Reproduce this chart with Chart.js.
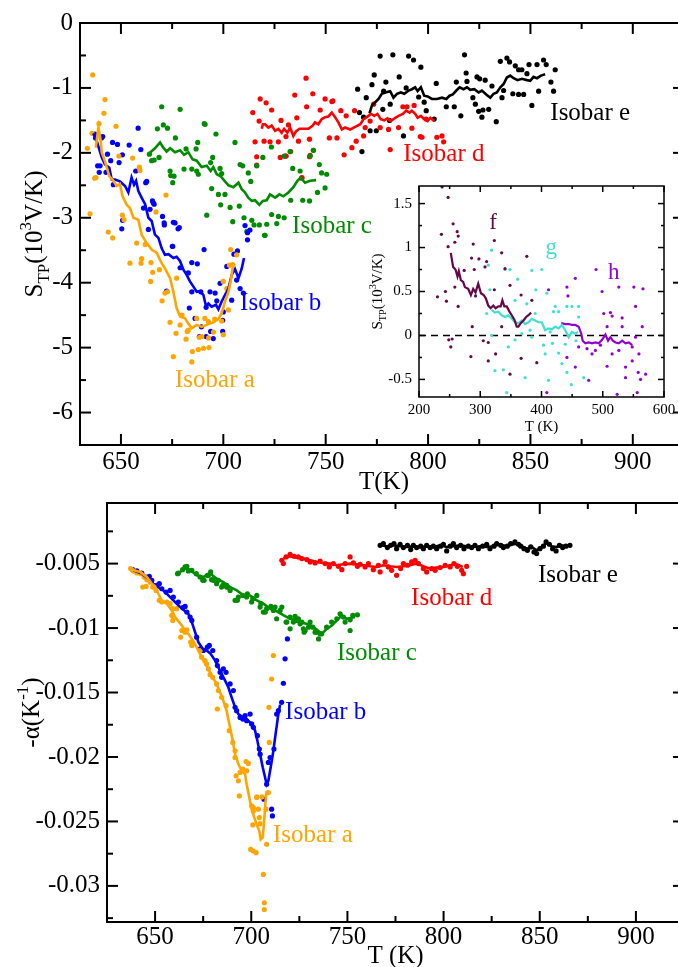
<!DOCTYPE html>
<html>
<head>
<meta charset="utf-8">
<script src="https://cdn.jsdelivr.net/npm/chart.js@4.4.1/dist/chart.umd.min.js"></script>
<style>
  html, body { margin: 0; padding: 0; background: #fff; overflow: hidden; width: 678px; height: 967px; }
  #wrap { position: relative; width: 678px; height: 967px; overflow: hidden; background: #fff; }
  canvas { position: absolute; left: 0; top: 0; }
</style>
</head>
<body>
<div id="wrap">
  <canvas id="topChart" width="690" height="967"></canvas>
  <canvas id="bottomChart" width="690" height="967"></canvas>
  <canvas id="insetChart" width="690" height="967"></canvas>
</div>
<script>
// ---------- Upper panel: thermopower S_TP (10^3 V/K) against T (K) ----------
const topXTicks = [650, 700, 750, 800, 850, 900];
const topXTickLabels = ['650', '700', '750', '800', '850', '900'];
const topXMinor = [675, 725, 775, 825, 875];
const topYTicks = [0, -1, -2, -3, -4, -5, -6];
const topYTickLabels = ['0', '-1', '-2', '-3', '-4', '-5', '-6'];
const topYMinor = [-0.5, -1.5, -2.5, -3.5, -4.5, -5.5];

const topA_dots = [[636.2,-0.80],[642.2,-1.18],[641.7,-1.39],[647.6,-1.59],[639.3,-1.55],[635.9,-1.70],[633.6,-1.93],[637.2,-2.39],[637.8,-2.38],[649.0,-2.05],[655.7,-2.08],[659.0,-2.22],[634.9,-2.94],[643.8,-3.22],[646.0,-3.31],[650.7,-2.96],[651.5,-3.03],[654.4,-3.70],[660.1,-3.63],[659.8,-3.70],[657.7,-3.39],[661.9,-3.41],[664.7,-3.69],[672.0,-2.65],[667.1,-2.91],[664.5,-3.98],[670.1,-4.28],[672.7,-4.14],[665.5,-3.84],[668.8,-3.80],[677.2,-3.93],[674.0,-4.61],[676.9,-4.78],[681.8,-4.87],[682.4,-4.75],[688.3,-4.84],[675.6,-5.14],[684.9,-5.06],[687.8,-5.03],[690.3,-5.01],[693.0,-5.00],[684.6,-5.22],[687.0,-4.55],[691.0,-4.55],[692.7,-4.60],[695.8,-4.56],[700.0,-4.80],[699.2,-4.59],[701.7,-4.09],[703.6,-3.49],[706.5,-3.57],[704.6,-3.72],[703.0,-3.73],[700.0,-3.98],[679.8,-4.50],[678.9,-4.65],[659.3,-2.27],[671.5,-4.16],[682.9,-4.73],[689.5,-4.83],[692.8,-4.85],[695.2,-4.76],[702.5,-4.42]];
const topA_line = [[637.7,-1.92],[639.0,-1.61],[640.1,-1.81],[640.6,-1.99],[642.2,-2.13],[644.3,-2.36],[646.3,-2.43],[647.9,-2.51],[649.5,-2.48],[650.8,-2.67],[652.8,-2.80],[654.4,-2.85],[656.1,-3.00],[658.5,-3.03],[660.1,-3.26],[662.6,-3.39],[665.0,-3.49],[667.5,-3.54],[669.9,-3.70],[671.5,-3.78],[674.0,-3.93],[675.6,-4.14],[677.2,-4.39],[678.9,-4.52],[681.3,-4.55],[682.9,-4.63],[684.6,-4.70],[687.0,-4.65],[689.4,-4.68],[691.9,-4.65],[695.1,-4.61],[697.6,-4.56],[699.2,-4.47],[700.8,-4.29],[702.5,-4.14],[703.6,-3.98],[704.9,-3.70]];

const topB_dots = [[637.3,-1.71],[637.6,-1.77],[640.5,-1.77],[638.6,-2.20],[639.4,-2.30],[643.4,-2.02],[645.0,-2.12],[645.9,-1.84],[648.3,-1.87],[649.1,-2.15],[650.7,-2.03],[654.0,-1.88],[658.4,-1.62],[659.7,-1.95],[657.2,-2.28],[662.1,-2.46],[665.4,-2.74],[666.2,-2.79],[670.3,-2.98],[671.1,-3.08],[675.6,-3.07],[677.9,-3.17],[675.1,-3.44],[641.1,-1.75],[639.8,-2.20],[642.7,-2.30],[646.3,-2.49],[662.6,-2.44],[665.8,-2.77],[664.2,-2.87],[650.8,-3.04],[650.4,-3.17],[661.0,-2.85],[663.4,-3.18],[671.2,-3.11],[676.4,-3.08],[678.5,-3.15],[675.3,-3.44],[690.6,-3.49],[684.6,-3.69],[687.3,-3.71],[682.9,-3.85],[672.3,-4.13],[678.9,-3.77],[684.6,-4.14],[689.0,-4.14],[693.5,-4.14],[696.0,-4.16],[698.4,-4.01],[696.8,-4.28],[691.6,-4.38],[686.2,-4.55],[683.4,-4.39],[688.3,-4.83],[691.6,-4.83],[695.1,-4.86],[693.8,-4.75],[700.0,-4.45],[704.1,-4.27],[706.9,-3.51],[705.2,-3.56],[706.5,-3.96],[708.2,-4.09],[709.8,-4.16],[710.6,-3.12],[711.8,-3.23],[711.8,-3.34],[713.0,-3.19],[701.7,-3.75],[699.7,-4.58],[699.7,-4.75],[689.3,-4.68]];
const topB_line = [[636.5,-1.70],[638.1,-1.81],[640.6,-2.07],[642.2,-2.18],[644.3,-2.23],[645.5,-2.41],[647.1,-2.41],[649.5,-2.44],[652.0,-2.51],[653.6,-2.61],[655.2,-2.38],[656.4,-2.49],[657.4,-2.43],[658.5,-2.59],[660.1,-2.69],[661.8,-2.79],[663.4,-3.00],[665.0,-3.05],[666.6,-3.26],[668.3,-3.31],[669.9,-3.47],[671.5,-3.57],[673.2,-3.56],[675.6,-3.62],[677.2,-3.60],[678.9,-3.67],[680.5,-3.80],[682.1,-3.88],[683.7,-3.98],[685.4,-4.06],[687.0,-4.14],[688.6,-4.13],[690.3,-4.19],[691.6,-4.37],[692.7,-4.32],[694.3,-4.37],[696.4,-4.34],[697.6,-4.41],[699.2,-4.29],[700.8,-4.19],[702.5,-4.09],[704.1,-3.88],[705.7,-3.79],[707.4,-3.93],[709.0,-3.78],[710.1,-3.62]];

const topC_dots = [[669.9,-1.29],[678.9,-1.33],[670.7,-1.57],[672.7,-1.62],[667.8,-1.63],[663.9,-2.02],[665.0,-2.12],[666.2,-2.11],[668.6,-2.07],[676.6,-1.77],[681.8,-1.94],[686.7,-1.94],[687.5,-1.84],[690.7,-1.55],[694.8,-2.07],[696.4,-1.71],[674.0,-2.28],[675.9,-2.36],[680.8,-2.25],[684.6,-2.25],[687.8,-2.33],[693.8,-2.15],[694.3,-2.55],[699.2,-2.32],[700.8,-2.64],[698.7,-2.80],[703.3,-2.84],[707.8,-2.82],[705.7,-1.84],[709.5,-2.20],[712.2,-2.31],[713.4,-2.44],[716.3,-2.20],[719.3,-2.07],[691.9,-2.96],[704.6,-3.06],[710.1,-3.00],[713.9,-3.04],[715.0,-3.11],[717.6,-3.11],[720.4,-3.27],[721.2,-3.10],[723.6,-2.95],[726.1,-3.09],[726.9,-2.98],[729.7,-3.00],[723.5,-1.91],[729.7,-2.05],[732.6,-1.98],[733.9,-2.24],[732.9,-2.73],[738.8,-2.73],[742.1,-2.74],[744.0,-1.96],[742.4,-2.05],[746.9,-2.18],[748.0,-2.31],[750.5,-2.33],[746.0,-2.61],[749.7,-2.54],[737.5,-2.28],[691.1,-1.56],[698.4,-2.24],[697.6,-2.64],[687.0,-2.28],[675.3,-2.46],[674.3,-2.35],[708.2,-2.18],[711.5,-3.21],[720.1,-3.27]];
const topC_line = [[663.4,-2.02],[666.6,-1.93],[669.1,-1.84],[670.7,-1.92],[672.3,-1.98],[674.0,-1.93],[676.4,-1.99],[678.9,-1.96],[680.8,-2.03],[682.9,-1.99],[685.0,-2.10],[687.0,-2.12],[689.4,-2.22],[691.9,-2.20],[693.8,-2.28],[695.1,-2.22],[696.8,-2.33],[698.7,-2.36],[700.8,-2.44],[702.5,-2.50],[704.9,-2.53],[707.4,-2.46],[709.0,-2.56],[710.6,-2.61],[712.2,-2.69],[713.9,-2.74],[715.5,-2.73],[717.6,-2.80],[719.3,-2.74],[721.2,-2.73],[722.8,-2.64],[725.3,-2.69],[727.4,-2.64],[729.3,-2.67],[731.8,-2.61],[734.2,-2.53],[736.2,-2.43],[737.8,-2.38],[739.9,-2.46],[742.4,-2.43],[745.3,-2.42]];

const topD_dots = [[740.4,-0.85],[718.0,-1.17],[720.9,-1.23],[714.4,-1.38],[717.5,-1.51],[723.6,-1.34],[728.2,-1.50],[731.8,-1.57],[735.9,-1.46],[734.9,-1.11],[740.7,-1.29],[743.7,-1.09],[747.3,-1.34],[749.7,-1.17],[753.0,-1.21],[715.5,-1.83],[719.9,-1.82],[722.8,-1.83],[726.9,-1.83],[730.6,-1.75],[736.7,-1.82],[742.1,-1.79],[751.8,-1.77],[716.3,-2.06],[730.2,-2.05],[732.9,-1.98],[744.0,-1.96],[742.1,-2.06],[738.3,-2.39],[753.5,-1.20],[757.4,-1.35],[760.0,-1.43],[764.1,-1.35],[771.7,-1.51],[773.4,-1.25],[776.6,-1.61],[780.7,-1.64],[785.6,-1.61],[787.7,-1.29],[789.7,-1.29],[793.2,-1.27],[792.1,-1.62],[796.2,-1.75],[797.0,-1.76],[799.1,-1.48],[804.3,-1.76],[807.6,-1.83],[781.5,-1.95],[764.9,-1.82],[762.8,-1.92],[759.0,-2.03],[769.3,-1.61],[768.5,-1.74],[755.5,-1.77],[806.8,-1.74],[716.3,-2.19],[727.8,-2.07],[730.7,-2.05],[742.4,-2.04],[738.4,-2.38]];
const topD_line = [[718.8,-1.63],[719.3,-1.56],[720.4,-1.56],[722.0,-1.61],[723.6,-1.58],[725.3,-1.66],[726.9,-1.63],[728.5,-1.69],[729.7,-1.63],[731.3,-1.69],[732.6,-1.61],[734.2,-1.74],[735.5,-1.67],[737.2,-1.63],[739.1,-1.63],[741.6,-1.63],[743.7,-1.58],[744.8,-1.53],[746.4,-1.56],[748.1,-1.48],[749.7,-1.45],[751.3,-1.44],[753.0,-1.38],[754.6,-1.45],[756.2,-1.53],[757.9,-1.64],[759.5,-1.61],[762.0,-1.64],[764.4,-1.60],[766.9,-1.56],[768.5,-1.48],[770.1,-1.45],[772.1,-1.40],[773.7,-1.43],[775.3,-1.40],[776.9,-1.48],[778.6,-1.50],[780.2,-1.47],[781.8,-1.51],[784.0,-1.46],[785.6,-1.43],[787.7,-1.40],[789.3,-1.35],[791.0,-1.38],[792.1,-1.35],[793.7,-1.40],[794.9,-1.46],[796.5,-1.43],[798.1,-1.48],[799.8,-1.51],[801.1,-1.46],[803.0,-1.51]];

const topE_dots = [[776.6,-0.51],[782.8,-0.49],[790.5,-0.51],[792.9,-0.57],[796.5,-0.68],[817.8,-0.49],[773.7,-0.80],[785.9,-0.83],[779.4,-0.91],[765.6,-1.02],[772.6,-0.95],[769.8,-1.15],[778.3,-1.05],[777.9,-1.33],[781.5,-1.25],[789.3,-1.00],[795.4,-1.14],[798.1,-1.22],[804.0,-0.93],[808.9,-1.29],[812.8,-1.29],[816.0,-1.43],[813.8,-0.91],[818.6,-0.77],[819.0,-0.90],[823.9,-0.83],[825.2,-0.86],[827.9,-0.88],[831.2,-0.97],[821.9,-1.15],[823.1,-1.25],[824.7,-1.36],[826.8,-1.34],[829.6,-1.33],[826.3,-1.45],[833.3,-1.52],[836.9,-1.04],[836.1,-1.15],[835.3,-0.59],[838.5,-0.54],[839.8,-0.60],[842.6,-0.66],[844.2,-0.72],[845.8,-0.72],[848.3,-0.78],[849.3,-0.64],[853.2,-0.64],[856.4,-0.57],[857.7,-0.64],[862.1,-0.72],[860.0,-0.91],[861.3,-1.05],[854.0,-1.05],[850.7,-1.27],[846.7,-1.10],[844.2,-1.10],[841.4,-1.09],[766.5,-1.38],[768.5,-1.45],[767.7,-1.98],[771.7,-1.66],[774.7,-1.66],[781.2,-1.50],[788.0,-1.74],[799.1,-1.35],[803.0,-1.48]];
const topE_line = [[771.4,-1.39],[772.6,-1.27],[774.2,-1.22],[775.8,-1.17],[777.4,-1.09],[779.1,-1.07],[781.5,-1.05],[783.1,-1.15],[784.8,-1.09],[786.7,-1.07],[788.4,-1.09],[790.5,-1.04],[792.1,-1.02],[793.7,-0.99],[794.9,-1.05],[796.5,-0.99],[798.1,-1.12],[799.8,-1.13],[801.9,-1.17],[804.3,-1.17],[806.8,-1.15],[808.9,-1.17],[810.5,-1.12],[812.1,-1.10],[813.8,-1.04],[815.4,-0.99],[817.3,-1.02],[819.0,-0.99],[820.6,-1.03],[822.6,-1.02],[824.7,-1.07],[826.3,-1.04],[828.4,-1.10],[830.4,-1.15],[832.0,-1.09],[833.6,-1.07],[835.3,-0.99],[836.9,-0.94],[838.5,-0.84],[840.1,-0.81],[841.8,-0.85],[843.7,-0.88],[845.8,-0.86],[848.3,-0.88],[849.9,-0.89],[851.5,-0.83],[853.2,-0.85],[855.1,-0.81],[857.2,-0.79]];

// ---------- Inset: S_TP (10^3 V/K) against T (K) for f, g, h ----------
const insetXTicks = [200, 300, 400, 500, 600];
const insetXTickLabels = ['200', '300', '400', '500', '600'];
const insetXMinor = [250, 350, 450, 550];
const insetYTicks = [-0.5, 0, 0.5, 1, 1.5];
const insetYTickLabels = ['-0.5', '0', '0.5', '1', '1.5'];
const insetYMinor = [-0.25, 0.25, 0.75, 1.25];
const insetZeroLine = [[200, 0], [600, 0]];

const insetF_dots = [[237.7,1.69],[247.5,1.57],[236.6,1.15],[255.7,1.27],[262.3,1.18],[264.0,1.13],[247.5,1.01],[258.5,1.06],[288.5,1.04],[323.0,1.08],[285.8,0.88],[297.8,0.87],[310.4,0.84],[335.0,0.94],[376.0,0.90],[273.8,0.74],[290.2,0.75],[307.7,0.78],[340.4,0.76],[348.6,0.57],[258.5,0.55],[243.2,0.50],[230.1,0.44],[244.8,0.39],[263.9,0.33],[292.3,0.45],[323.0,0.52],[366.7,0.46],[384.2,0.40],[286.9,0.10],[248.6,-0.05],[254.1,-0.04],[251.9,-0.13],[304.9,-0.06],[313.1,-0.08],[325.1,-0.21],[284.7,-0.24],[313.1,-0.29],[348.6,-0.44],[366.7,-0.26],[392.3,-0.31],[335.0,0.10]];
const insetF_line = [[251.9,0.94],[255.7,0.78],[259.6,0.75],[262.8,0.67],[265.0,0.73],[268.3,0.63],[272.1,0.61],[274.9,0.55],[280.3,0.53],[284.7,0.46],[288.5,0.53],[292.3,0.49],[296.7,0.59],[301.1,0.48],[305.5,0.46],[309.3,0.42],[313.1,0.34],[317.0,0.31],[321.3,0.34],[325.1,0.31],[329.5,0.33],[333.3,0.33],[336.1,0.40],[339.3,0.33],[343.2,0.33],[347.0,0.28],[351.4,0.23],[355.7,0.18],[359.6,0.10],[362.3,0.10],[366.1,0.14],[370.5,0.17],[374.9,0.21],[378.7,0.23],[383.1,0.26]];

const insetG_dots = [[318.6,0.97],[313.1,0.80],[315.8,0.52],[340.4,0.75],[348.6,0.75],[361.2,0.64],[384.2,0.74],[400.5,0.75],[390.7,0.52],[422.4,0.33],[427.9,0.27],[441.5,0.33],[449.7,0.33],[460.7,0.33],[310.4,0.25],[318.6,0.00],[345.9,-0.13],[356.8,-0.05],[384.2,-0.02],[406.0,-0.21],[418.0,-0.09],[427.9,-0.20],[433.3,-0.32],[441.5,-0.42],[373.2,-0.48],[324.0,-0.40],[337.7,-0.39],[343.2,-0.65],[411.5,-0.51],[448.6,-0.56],[468.9,-0.48],[408.7,0.48],[419.7,0.27],[356.8,0.40],[376.0,0.36],[389.6,0.25],[367.8,0.02],[381.4,0.06],[414.2,0.04],[403.3,-0.11],[438.8,-0.10],[456.3,-0.06],[460.7,0.21]];
const insetG_line = [[318.6,0.29],[324.0,0.26],[329.5,0.27],[335.0,0.23],[340.4,0.21],[345.9,0.23],[351.4,0.19],[356.8,0.15],[362.3,0.14],[367.8,0.17],[373.2,0.13],[378.7,0.15],[384.2,0.19],[389.6,0.17],[395.1,0.15],[400.5,0.15],[406.0,0.06],[411.5,0.08],[416.9,0.07],[422.4,0.10],[427.9,0.08],[433.3,0.12],[438.8,0.06],[444.3,-0.02],[449.7,0.04],[455.2,0.02],[459.6,0.04]];

const insetH_dots = [[411.5,0.52],[441.5,0.55],[443.2,0.45],[455.2,0.65],[489.1,0.75],[498.9,0.50],[526.2,0.55],[550.8,0.55],[565.6,0.53],[515.3,0.22],[531.7,0.20],[553.6,0.33],[564.5,0.10],[482.5,-0.21],[507.1,-0.35],[548.1,-0.29],[557.9,-0.42],[561.7,-0.50],[537.2,-0.48],[556.3,-0.65],[523.5,-0.67],[477.0,-0.51],[408.7,-0.65],[455.2,-0.36],[474.3,-0.15],[460.7,-0.13],[501.6,0.25],[512.6,0.26],[507.1,0.10],[531.7,0.10],[553.6,-0.02],[548.1,-0.13],[526.2,-0.17],[515.3,-0.21],[488.0,-0.17],[496.2,-0.11],[537.2,-0.36],[559.0,-0.21],[570.0,-0.44],[441.5,-0.25]];
const insetH_line = [[432.2,0.14],[438.8,0.13],[444.3,0.13],[449.7,0.12],[455.2,0.12],[460.7,0.10],[465.0,0.02],[467.2,-0.06],[471.6,-0.09],[477.0,-0.08],[482.5,-0.09],[488.0,-0.08],[493.4,-0.09],[498.9,-0.05],[504.4,0.01],[508.7,-0.06],[512.6,-0.02],[516.4,-0.06],[520.8,-0.08],[526.2,-0.09],[531.7,-0.06],[537.2,-0.09],[542.6,-0.08],[548.1,-0.11]];

// ---------- Lower panel: -alpha (1/K) against T (K) ----------
const botXTicks = [650, 700, 750, 800, 850, 900];
const botXTickLabels = ['650', '700', '750', '800', '850', '900'];
const botXMinor = [675, 725, 775, 825, 875];
const botYTicks = [-0.005, -0.01, -0.015, -0.02, -0.025, -0.03];
const botYTickLabels = ['-0.005', '-0.01', '-0.015', '-0.02', '-0.025', '-0.03'];
const botYMinor = [-0.0025, -0.0075, -0.0125, -0.0175, -0.0225, -0.0275, -0.0325];

const botA_dots = [[637.3,-0.00539],[638.7,-0.00557],[640.5,-0.00573],[642.5,-0.00578],[644.3,-0.00604],[645.7,-0.00625],[647.4,-0.00643],[643.6,-0.00682],[645.3,-0.00677],[648.8,-0.00682],[650.5,-0.00708],[652.2,-0.00785],[653.5,-0.00798],[656.1,-0.00798],[657.8,-0.00811],[659.2,-0.00850],[661.3,-0.00850],[659.2,-0.00941],[658.7,-0.00902],[663.9,-0.01019],[665.6,-0.01032],[666.5,-0.01013],[663.3,-0.01071],[668.5,-0.01109],[669.1,-0.01135],[673.4,-0.01174],[674.2,-0.01226],[676.0,-0.01252],[676.8,-0.01278],[677.7,-0.01317],[678.6,-0.01361],[680.0,-0.01382],[682.0,-0.01433],[682.9,-0.01485],[682.4,-0.01628],[684.6,-0.01537],[686.9,-0.01602],[688.6,-0.01796],[690.4,-0.01887],[691.6,-0.01952],[692.1,-0.02146],[693.3,-0.02185],[694.2,-0.02120],[695.6,-0.02094],[697.3,-0.02035],[693.8,-0.02302],[700.2,-0.02380],[701.1,-0.02419],[702.8,-0.02315],[703.7,-0.02405],[700.8,-0.02527],[704.6,-0.02517],[699.7,-0.02717],[701.1,-0.02730],[702.5,-0.02742],[708.0,-0.02677],[706.3,-0.02911],[706.8,-0.03131],[706.8,-0.03183],[709.4,-0.01887],[710.6,-0.01395],[711.5,-0.01213],[709.2,-0.01615],[691.6,-0.02004],[697.7,-0.02107],[698.5,-0.02050],[701.1,-0.02393],[702.9,-0.02310],[704.2,-0.02470],[707.7,-0.02405],[705.6,-0.02310],[708.9,-0.02276]];
const botA_line = [[637.9,-0.00547],[642.2,-0.00565],[645.7,-0.00604],[648.3,-0.00656],[650.0,-0.00677],[651.7,-0.00734],[653.5,-0.00785],[656.1,-0.00811],[658.7,-0.00863],[660.4,-0.00915],[662.1,-0.00946],[663.9,-0.00980],[665.6,-0.01019],[667.3,-0.01045],[669.6,-0.01096],[671.6,-0.01148],[673.4,-0.01200],[675.1,-0.01252],[677.2,-0.01304],[679.4,-0.01369],[682.0,-0.01433],[683.8,-0.01498],[685.5,-0.01563],[687.2,-0.01641],[688.6,-0.01744],[690.4,-0.01874],[691.6,-0.01978],[693.3,-0.02055],[695.0,-0.02107],[696.8,-0.02133],[697.6,-0.02211],[699.0,-0.02315],[700.2,-0.02405],[701.6,-0.02470],[702.8,-0.02522],[704.2,-0.02574],[704.9,-0.02639],[705.9,-0.02626],[706.6,-0.02522],[707.3,-0.02367],[708.0,-0.02263]];

const botB_dots = [[638.4,-0.00547],[640.5,-0.00557],[643.1,-0.00573],[645.3,-0.00604],[647.0,-0.00599],[648.3,-0.00630],[650.9,-0.00669],[652.2,-0.00656],[653.5,-0.00695],[655.7,-0.00721],[657.8,-0.00708],[659.5,-0.00759],[662.1,-0.00798],[664.4,-0.00842],[665.6,-0.00832],[666.5,-0.00876],[668.2,-0.00915],[669.1,-0.00941],[671.6,-0.01071],[673.4,-0.01161],[675.1,-0.01174],[677.2,-0.01148],[678.2,-0.01135],[680.0,-0.01174],[682.0,-0.01252],[682.4,-0.01291],[683.8,-0.01343],[685.5,-0.01317],[686.9,-0.01343],[684.6,-0.01382],[689.0,-0.01433],[690.7,-0.01485],[691.6,-0.01615],[692.4,-0.01641],[694.2,-0.01693],[695.6,-0.01706],[696.8,-0.01680],[697.6,-0.01719],[699.4,-0.01667],[700.2,-0.01744],[701.1,-0.01770],[703.2,-0.01835],[704.2,-0.01939],[704.6,-0.01978],[708.9,-0.02042],[709.8,-0.02004],[711.8,-0.01939],[713.2,-0.01667],[714.1,-0.01641],[715.8,-0.01576],[706.6,-0.02328],[710.6,-0.02405],[711.0,-0.02457],[716.7,-0.01428],[717.6,-0.01239],[718.8,-0.01084],[708.0,-0.02211]];
const botB_line = [[638.7,-0.00552],[643.1,-0.00578],[646.5,-0.00617],[649.1,-0.00656],[651.7,-0.00682],[654.3,-0.00708],[656.9,-0.00747],[659.5,-0.00785],[662.1,-0.00824],[664.7,-0.00858],[667.3,-0.00889],[669.1,-0.00954],[670.8,-0.01032],[672.5,-0.01109],[674.8,-0.01161],[676.8,-0.01174],[678.9,-0.01200],[681.2,-0.01252],[682.9,-0.01304],[684.6,-0.01356],[686.4,-0.01408],[688.1,-0.01459],[689.8,-0.01537],[691.6,-0.01615],[693.3,-0.01667],[695.6,-0.01693],[697.6,-0.01706],[700.2,-0.01744],[702.0,-0.01796],[703.2,-0.01874],[704.6,-0.01978],[706.0,-0.02081],[707.2,-0.02159],[708.0,-0.02211],[708.9,-0.02185],[710.1,-0.02081],[711.5,-0.01952],[712.9,-0.01796],[714.1,-0.01667],[715.0,-0.01594]];

const botC_dots = [[661.7,-0.00578],[664.3,-0.00547],[666.5,-0.00521],[669.1,-0.00552],[671.4,-0.00578],[673.4,-0.00604],[675.5,-0.00630],[677.2,-0.00591],[678.9,-0.00565],[680.3,-0.00630],[682.9,-0.00630],[685.2,-0.00669],[687.2,-0.00682],[689.0,-0.00708],[692.8,-0.00785],[695.6,-0.00747],[698.0,-0.00734],[700.8,-0.00772],[702.9,-0.00747],[705.0,-0.00811],[707.3,-0.00876],[710.2,-0.00832],[712.4,-0.00837],[715.9,-0.00837],[718.1,-0.00954],[720.2,-0.00915],[722.8,-0.00910],[724.5,-0.00928],[726.3,-0.00954],[727.5,-0.01032],[729.8,-0.00993],[732.0,-0.00993],[734.0,-0.01032],[735.0,-0.01084],[736.6,-0.01045],[739.2,-0.00993],[741.8,-0.00954],[746.2,-0.00889],[747.9,-0.00915],[748.8,-0.00954],[751.4,-0.00936],[752.8,-0.00902],[755.2,-0.00897],[751.4,-0.01019],[744.5,-0.00928],[735.8,-0.01045],[730.6,-0.00954],[727.1,-0.01006],[723.7,-0.00941],[715.0,-0.00863],[711.5,-0.00863],[718.5,-0.00954],[662.1,-0.00573],[665.6,-0.00526],[667.3,-0.00557],[674.8,-0.00630],[677.7,-0.00591],[679.4,-0.00625],[682.0,-0.00656],[684.6,-0.00682],[687.2,-0.00669],[689.0,-0.00695],[691.6,-0.00785],[693.3,-0.00759],[697.6,-0.00759],[700.2,-0.00798],[704.6,-0.00837],[706.3,-0.00876],[708.0,-0.00850],[713.2,-0.00928],[720.2,-0.01006],[721.9,-0.00954],[725.4,-0.00967],[728.0,-0.01019],[733.2,-0.01032]];
const botC_line = [[661.3,-0.00578],[663.5,-0.00560],[666.5,-0.00531],[669.0,-0.00560],[671.7,-0.00591],[675.2,-0.00604],[678.6,-0.00578],[682.1,-0.00617],[685.5,-0.00643],[689.0,-0.00682],[692.5,-0.00708],[696.0,-0.00747],[699.4,-0.00747],[702.9,-0.00785],[706.3,-0.00811],[709.8,-0.00850],[713.3,-0.00870],[716.7,-0.00900],[720.2,-0.00928],[723.6,-0.00941],[727.1,-0.00960],[730.6,-0.00975],[734.0,-0.01012],[736.7,-0.01045],[739.3,-0.01006],[741.9,-0.00980],[744.5,-0.00941],[747.1,-0.00902],[749.6,-0.00928],[752.2,-0.00920],[754.0,-0.00915]];

const botD_dots = [[715.9,-0.00474],[716.7,-0.00500],[718.1,-0.00448],[720.2,-0.00428],[722.3,-0.00443],[724.5,-0.00448],[726.3,-0.00461],[728.9,-0.00469],[730.6,-0.00487],[733.2,-0.00495],[735.8,-0.00480],[738.4,-0.00500],[740.6,-0.00526],[742.7,-0.00500],[745.3,-0.00521],[747.1,-0.00547],[748.8,-0.00500],[751.4,-0.00448],[753.1,-0.00495],[755.2,-0.00521],[756.6,-0.00505],[759.2,-0.00526],[760.9,-0.00500],[763.5,-0.00547],[766.1,-0.00513],[767.0,-0.00565],[769.6,-0.00487],[771.3,-0.00526],[773.0,-0.00552],[775.6,-0.00591],[777.7,-0.00539],[779.1,-0.00500],[781.2,-0.00513],[783.4,-0.00487],[785.2,-0.00474],[786.9,-0.00500],[789.5,-0.00539],[791.2,-0.00565],[793.8,-0.00539],[795.6,-0.00552],[798.2,-0.00531],[800.8,-0.00513],[803.4,-0.00526],[805.4,-0.00500],[807.2,-0.00521],[809.4,-0.00552],[810.3,-0.00578],[812.0,-0.00521]];
const botD_line = [[716.7,-0.00461],[720.2,-0.00443],[723.7,-0.00454],[727.1,-0.00461],[730.6,-0.00474],[734.1,-0.00487],[737.5,-0.00495],[741.0,-0.00500],[744.5,-0.00513],[747.9,-0.00505],[751.4,-0.00500],[754.8,-0.00505],[758.3,-0.00513],[761.8,-0.00521],[765.2,-0.00526],[768.7,-0.00513],[772.2,-0.00521],[775.6,-0.00526],[779.1,-0.00521],[782.6,-0.00513],[786.0,-0.00500],[789.5,-0.00521],[793.0,-0.00539],[796.4,-0.00531],[799.9,-0.00526],[803.4,-0.00513],[806.8,-0.00505],[810.0,-0.00526]];

const botE_dots = [[767.0,-0.00358],[768.7,-0.00345],[770.8,-0.00376],[772.5,-0.00358],[774.2,-0.00345],[775.6,-0.00384],[777.4,-0.00350],[779.1,-0.00376],[781.2,-0.00358],[782.9,-0.00391],[784.3,-0.00358],[786.0,-0.00376],[788.1,-0.00365],[789.5,-0.00384],[791.2,-0.00358],[793.0,-0.00376],[794.7,-0.00365],[796.4,-0.00384],[798.5,-0.00365],[799.9,-0.00350],[801.6,-0.00402],[803.4,-0.00365],[805.1,-0.00345],[806.8,-0.00376],[808.9,-0.00358],[810.6,-0.00384],[812.9,-0.00365],[814.6,-0.00376],[816.3,-0.00358],[818.1,-0.00384],[820.3,-0.00365],[822.4,-0.00350],[824.1,-0.00384],[826.2,-0.00365],[827.6,-0.00345],[829.7,-0.00358],[831.1,-0.00376],[833.1,-0.00365],[834.9,-0.00345],[837.1,-0.00332],[838.9,-0.00350],[840.1,-0.00365],[841.8,-0.00384],[843.6,-0.00397],[845.3,-0.00371],[847.0,-0.00410],[848.4,-0.00422],[850.1,-0.00384],[851.9,-0.00365],[853.3,-0.00332],[855.0,-0.00350],[856.7,-0.00384],[858.5,-0.00402],[860.2,-0.00358],[861.9,-0.00376],[863.6,-0.00365],[865.7,-0.00358]];
const botE_line = [[767.0,-0.00358],[770.4,-0.00365],[773.9,-0.00358],[777.4,-0.00365],[780.8,-0.00371],[784.3,-0.00365],[787.8,-0.00371],[791.2,-0.00365],[794.7,-0.00371],[798.2,-0.00358],[801.6,-0.00371],[805.1,-0.00365],[808.6,-0.00358],[812.0,-0.00365],[815.5,-0.00371],[819.0,-0.00365],[822.4,-0.00371],[825.9,-0.00365],[829.3,-0.00350],[832.8,-0.00365],[836.3,-0.00350],[838.9,-0.00345],[841.5,-0.00371],[843.2,-0.00384],[845.8,-0.00371],[848.4,-0.00397],[851.0,-0.00371],[853.6,-0.00340],[856.2,-0.00365],[858.8,-0.00371],[861.4,-0.00358],[864.0,-0.00365],[865.7,-0.00358]];

// ---------- colours ----------
const ORANGE = '#ffa500', BLUE = '#0000ff', GREEN = '#008c00', RED = '#ff0000', BLACK = '#000000';
const MAROON = '#670748', TURQUOISE = '#40e0d0', VIOLET = '#9400d3';
const FONT = "'Liberation Serif','Times New Roman',Times,serif";

// ---------- helpers ----------
const pts = arr => arr.map(([x, y]) => ({ x, y }));
function dots(arr, color, r) {
  return { data: pts(arr), showLine: false, pointRadius: r, pointHoverRadius: r,
           pointBackgroundColor: color, pointBorderWidth: 0, borderColor: color, backgroundColor: color };
}
function curve(arr, color, w, dash) {
  return { data: pts(arr), showLine: true, pointRadius: 0, pointHoverRadius: 0, borderColor: color,
           backgroundColor: color, borderWidth: w, tension: 0, fill: false, borderDash: dash || [] };
}

// text with subscript / superscript pieces, centred on (cx, cy)
function drawRich(ctx, parts, cx, cy, size, angle) {
  ctx.save();
  ctx.translate(cx, cy);
  ctx.rotate(angle);
  ctx.fillStyle = '#000';
  ctx.textAlign = 'left';
  ctx.textBaseline = 'alphabetic';
  const spans = parts.map(p => {
    const fs = p.k ? size * 0.68 : size;
    ctx.font = fs + 'px ' + FONT;
    return { t: p.t, k: p.k, fs, w: ctx.measureText(p.t).width };
  });
  const total = spans.reduce((s, p) => s + p.w, 0);
  let xx = -total / 2;
  const base = size * 0.34;
  for (const s of spans) {
    ctx.font = s.fs + 'px ' + FONT;
    const dy = s.k === 'sub' ? size * 0.28 : (s.k === 'sup' ? -size * 0.42 : 0);
    ctx.fillText(s.t, xx, base + dy);
    xx += s.w;
  }
  ctx.restore();
}

// inward ticks on all four sides, a box frame, tick labels, axis titles and in-plot notes
const framePlugin = {
  id: 'frame',
  beforeDatasetsDraw(chart, args, o) {
    if (!o.fill) return;
    const a = chart.chartArea, ctx = chart.ctx;
    ctx.save();
    ctx.fillStyle = o.fill;
    ctx.fillRect(a.left, a.top, a.right - a.left, a.bottom - a.top);
    ctx.restore();
  },
  afterDatasetsDraw(chart, args, o) {
    const { ctx, chartArea: a } = chart;
    const xs = chart.scales.x, ys = chart.scales.y;
    ctx.save();
    ctx.strokeStyle = '#000';
    ctx.lineWidth = o.tickWidth;
    const seg = (x1, y1, x2, y2) => { ctx.beginPath(); ctx.moveTo(x1, y1); ctx.lineTo(x2, y2); ctx.stroke(); };
    const xt = (vals, len) => vals.forEach(v => {
      const p = xs.getPixelForValue(v);
      seg(p, a.bottom, p, a.bottom - len); seg(p, a.top, p, a.top + len);
    });
    const yt = (vals, len) => vals.forEach(v => {
      const p = ys.getPixelForValue(v);
      seg(a.left, p, a.left + len, p); seg(a.right, p, a.right - len, p);
    });
    xt(o.xMajor, o.majorLen); xt(o.xMinor, o.minorLen);
    yt(o.yMajor, o.majorLen); yt(o.yMinor, o.minorLen);
    ctx.lineWidth = o.frameWidth;
    ctx.strokeRect(a.left, a.top, a.right - a.left, a.bottom - a.top);

    ctx.fillStyle = '#000';
    ctx.font = o.tickSize + 'px ' + FONT;
    ctx.textBaseline = 'middle';
    ctx.textAlign = 'center';
    o.xMajor.forEach((v, i) => ctx.fillText(o.xLabels[i], xs.getPixelForValue(v), a.bottom + o.xLabelGap));
    ctx.textAlign = 'right';
    o.yMajor.forEach((v, i) => ctx.fillText(o.yLabels[i], a.left - o.yLabelGap, ys.getPixelForValue(v)));

    drawRich(ctx, o.xTitle, (a.left + a.right) / 2 + (o.xTitleShift || 0), a.bottom + o.xTitleGap, o.titleSize, 0);
    drawRich(ctx, o.yTitle, o.yTitleX, (a.top + a.bottom) / 2, o.titleSize, -Math.PI / 2);

    for (const n of o.notes) {
      ctx.font = n.size + 'px ' + FONT;
      ctx.fillStyle = n.color;
      ctx.textAlign = n.align || 'left';
      ctx.textBaseline = 'middle';
      ctx.fillText(n.text, xs.getPixelForValue(n.x), ys.getPixelForValue(n.y));
    }
    ctx.restore();
  }
};

function makeChart(id, datasets, xr, yr, padding, frame) {
  return new Chart(document.getElementById(id), {
    type: 'scatter',
    data: { datasets },
    options: {
      responsive: false,
      animation: false,
      devicePixelRatio: 1,
      events: [],
      layout: { padding },
      scales: {
        x: { type: 'linear', min: xr[0], max: xr[1], display: false },
        y: { type: 'linear', min: yr[0], max: yr[1], display: false }
      },
      plugins: { legend: { display: false }, tooltip: { enabled: false }, frame }
    },
    plugins: [framePlugin]
  });
}

const STP = [{ t: 'S' }, { t: 'TP', k: 'sub' }, { t: '(10' }, { t: '3', k: 'sup' }, { t: 'V/K)' }];

// upper panel
makeChart('topChart', [
  curve(topA_line, ORANGE, 2.6), curve(topB_line, BLUE, 2.6), curve(topC_line, GREEN, 2.6),
  curve(topD_line, RED, 2.6), curve(topE_line, BLACK, 2.6),
  dots(topA_dots, ORANGE, 2.6), dots(topB_dots, BLUE, 2.6), dots(topC_dots, GREEN, 2.6),
  dots(topD_dots, RED, 2.6), dots(topE_dots, BLACK, 2.6)
], [630, 925], [-6.5, 0], { left: 80, top: 23, right: 6, bottom: 522 }, {
  xMajor: topXTicks, xMinor: topXMinor, yMajor: topYTicks, yMinor: topYMinor,
  xLabels: topXTickLabels, yLabels: topYTickLabels,
  majorLen: 11, minorLen: 6, tickWidth: 2, frameWidth: 2, tickSize: 25,
  xLabelGap: 17, yLabelGap: 7, titleSize: 25,
  xTitle: [{ t: 'T(K)' }], xTitleGap: 35, xTitleShift: 2,
  yTitle: STP, yTitleX: 33,
  notes: [
    { text: 'Isobar a', x: 676.4, y: -5.50, color: ORANGE, size: 25 },
    { text: 'Isobar b', x: 708.2, y: -4.32, color: BLUE, size: 25 },
    { text: 'Isobar c', x: 733.6, y: -3.13, color: GREEN, size: 25 },
    { text: 'Isobar d', x: 787.9, y: -2.02, color: RED, size: 25 },
    { text: 'Isobar e', x: 859.7, y: -1.40, color: BLACK, size: 25 }
  ]
});

// lower panel
makeChart('bottomChart', [
  curve(botA_line, ORANGE, 2.6), curve(botB_line, BLUE, 2.6), curve(botC_line, GREEN, 2.6),
  curve(botD_line, RED, 2.6), curve(botE_line, BLACK, 2.6),
  dots(botA_dots, ORANGE, 2.6), dots(botB_dots, BLUE, 2.6), dots(botC_dots, GREEN, 2.6),
  dots(botD_dots, RED, 2.6), dots(botE_dots, BLACK, 2.6)
], [625, 925], [-0.0328, -0.0003], { left: 107, top: 503, right: 6, bottom: 45 }, {
  xMajor: botXTicks, xMinor: botXMinor, yMajor: botYTicks, yMinor: botYMinor,
  xLabels: botXTickLabels, yLabels: botYTickLabels,
  majorLen: 11, minorLen: 6, tickWidth: 2, frameWidth: 2, tickSize: 25,
  xLabelGap: 15, yLabelGap: 7, titleSize: 25,
  xTitle: [{ t: 'T (K)' }], xTitleGap: 32, xTitleShift: 0,
  yTitle: [{ t: '-\u03b1(K' }, { t: '-1', k: 'sup' }, { t: ')' }], yTitleX: 30,
  notes: [
    { text: 'Isobar a', x: 711.3, y: -0.0261, color: ORANGE, size: 25 },
    { text: 'Isobar b', x: 717.6, y: -0.01656, color: BLUE, size: 25 },
    { text: 'Isobar c', x: 744.6, y: -0.01198, color: GREEN, size: 25 },
    { text: 'Isobar d', x: 783.1, y: -0.0077, color: RED, size: 25 },
    { text: 'Isobar e', x: 849.1, y: -0.00591, color: BLACK, size: 25 }
  ]
});

// inset
makeChart('insetChart', [
  curve(insetF_line, MAROON, 2.2), curve(insetG_line, TURQUOISE, 2.2), curve(insetH_line, VIOLET, 2.2),
  dots(insetF_dots, MAROON, 1.6), dots(insetG_dots, TURQUOISE, 1.6), dots(insetH_dots, VIOLET, 1.6),
  curve(insetZeroLine, BLACK, 1.5, [7, 5])
], [200, 600], [-0.7, 1.7], { left: 419, top: 186, right: 26, bottom: 570 }, {
  fill: '#ffffff',
  xMajor: insetXTicks, xMinor: insetXMinor, yMajor: insetYTicks, yMinor: insetYMinor,
  xLabels: insetXTickLabels, yLabels: insetYTickLabels,
  majorLen: 6, minorLen: 3, tickWidth: 1.5, frameWidth: 1.5, tickSize: 15,
  xLabelGap: 13, yLabelGap: 7, titleSize: 15,
  xTitle: [{ t: 'T (K)' }], xTitleGap: 29, xTitleShift: 0,
  yTitle: STP, yTitleX: 377,
  notes: [
    { text: 'f', x: 321, y: 1.28, color: MAROON, size: 23, align: 'center' },
    { text: 'g', x: 416, y: 1.0, color: TURQUOISE, size: 23, align: 'center' },
    { text: 'h', x: 518, y: 0.71, color: VIOLET, size: 23, align: 'center' }
  ]
});
</script>
</body>
</html>
